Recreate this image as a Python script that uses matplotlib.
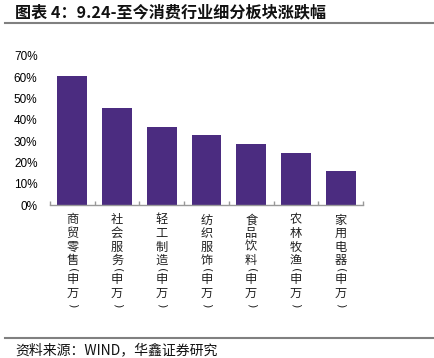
import matplotlib
matplotlib.use("Agg")
import matplotlib.pyplot as plt
from matplotlib.ticker import FuncFormatter, FixedLocator
import matplotlib.transforms as mtransforms

plt.rcParams['font.family'] = ['Noto Sans CJK SC', 'DejaVu Sans']

categories = ["商贸零售", "社会服务", "轻工制造", "纺织服饰", "食品饮料", "农林牧渔", "家用电器"]
suffix = "申万"
values = [0.606, 0.458, 0.368, 0.329, 0.288, 0.243, 0.159]
yticks = [0, 0.1, 0.2, 0.3, 0.4, 0.5, 0.6, 0.7]
title = "图表 4：9.24-至今消费行业细分板块涨跌幅"
source = "资料来源：WIND，华鑫证券研究"

W, H = 435, 358
fig = plt.figure(figsize=(W / 100, H / 100), dpi=100)
ax = fig.add_axes([50 / W, 1 - 205 / H, (363 - 50) / W, (205 - 56) / H])

x = list(range(len(categories)))
ax.bar(x, values, width=0.67, color="#4B2C80", edgecolor="none")
ax.set_xlim(-0.5, len(categories) - 0.5)
ax.set_ylim(0, 0.7)
ax.set_yticks(yticks)
ax.yaxis.set_major_formatter(FuncFormatter(lambda v, p: f"{v*100:.0f}%"))
for lab in ax.get_yticklabels():
    lab.set_fontfamily(['Liberation Sans', 'DejaVu Sans'])
    lab.set_fontsize(8.5)
ax.tick_params(axis='y', length=0, pad=9)
for s in ['left', 'right', 'top']:
    ax.spines[s].set_visible(False)
ax.spines['bottom'].set_color('#999999')
ax.spines['bottom'].set_linewidth(1.0)
ax.xaxis.set_major_locator(FixedLocator([i - 0.5 for i in range(len(categories) + 1)]))
ax.set_xticklabels([])
ax.tick_params(axis='x', direction='in', length=3, color='#999999', width=1.0)

# vertical stacked category labels (offsets in pixels below the axis)
fs = 8.8
px = 0.72  # pixels -> points


def place(i, s, off, **kw):
    tr = mtransforms.offset_copy(ax.get_xaxis_transform(), fig=fig, x=0, y=-off * px, units='points')
    return ax.text(i, 0, s, transform=tr, ha='center', va='center',
                   fontsize=kw.pop('size', fs), color='#222222', **kw)


char_offsets = [15, 28.5, 42, 55.5]
suffix_offsets = [75, 88.5]
for i, cat in enumerate(categories):
    for ch, off in zip(cat, char_offsets):
        place(i, ch, off)
    place(i, "(", 65, rotation=-90, family='DejaVu Sans', size=8)
    for ch, off in zip(suffix, suffix_offsets):
        place(i, ch, off)
    place(i, ")", 100, rotation=-90, family='DejaVu Sans', size=8)

# title and separators
fig.text(15 / W, 1 - 12 / H, title, fontsize=11.6, fontweight='bold', ha='left', va='center', color='#111111')
fig.add_artist(plt.Line2D([5 / W, 1], [1 - 22.5 / H] * 2, color='#808080', linewidth=1.5))
fig.add_artist(plt.Line2D([5 / W, 1], [1 - 338 / H] * 2, color='#808080', linewidth=1.5))
fig.text(15 / W, 1 - 350 / H, source, fontsize=10, ha='left', va='center', color='#111111')

fig.savefig("out.png", dpi=100)
